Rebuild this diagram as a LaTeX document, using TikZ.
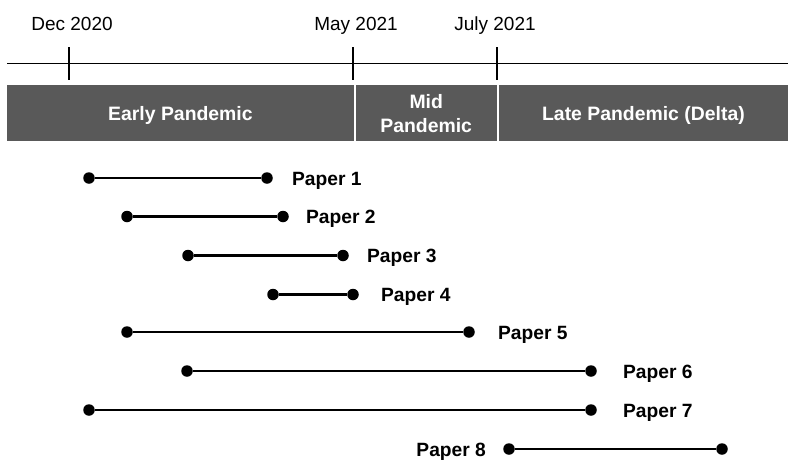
\documentclass[tikz,border=0pt]{standalone}
\usepackage{fontspec}
\setmainfont{Liberation Sans}
\usetikzlibrary{positioning}
\definecolor{bandgray}{HTML}{595959}
\tikzset{period/.style={
            fill=bandgray,
            draw=none,
            inner sep=0pt,
            minimum height=56pt,
            anchor=north west,
            text=white,
            align=center,
            text depth=0pt,
            font=\bfseries\fontsize{19.4}{24}\selectfont
        },
        dot/.style={
            circle,
            fill=black,
            inner sep=0pt,
            minimum size=11.5pt
        },
        span/.style={
            line width=2.6pt
        },
        paper/.style={
            inner sep=0pt,
            yshift=-2.5pt,
            font=\bfseries\fontsize{19.2}{22}\selectfont
        },
        datelabel/.style={
            inner sep=0pt,
            anchor=base,
            font=\fontsize{19}{22}\selectfont
        },
        axis/.style={
            line width=1.4pt
        }
    }
\begin{document}
\begin{tikzpicture}[x=1pt,y=-1pt]
        \useasboundingbox (0,0) rectangle (788,459);

        % time axis
        \coordinate (start) at (7,63.5);
        \coordinate (end) at (788,63.5);
        \draw[axis] (start) -- (end);
        \coordinate (dectop) at (69,47);
        \coordinate (decbot) at (69,80);
        \coordinate (maytop) at (353,47);
        \coordinate (maybot) at (353,80);
        \coordinate (jultop) at (497,47);
        \coordinate (julbot) at (497,80);
        \draw[axis] (dectop) -- (decbot);
        \draw[axis] (maytop) -- (maybot);
        \draw[axis] (jultop) -- (julbot);
        \node[datelabel] (dec) at (72,30) {Dec 2020};
        \node[datelabel] (may) at (356,30) {May 2021};
        \node[datelabel] (jul) at (495,30) {July 2021};

        % periods
        \node[period, minimum width=346.5pt] (early) at (7,85) {Early Pandemic};
        \node[period, minimum width=141pt] (mid) at (355.5,85) {Mid\\Pandemic};
        \node[period, minimum width=289.5pt] (late) at (498.5,85) {Late Pandemic (Delta)};

        % papers
        \node[dot] (p1a) at (89,178) {};
        \node[dot] (p1b) at (267,178) {};
        \draw[span] (p1a) -- (p1b);
        \node[paper, right=19pt of p1b] (p1) {Paper 1};

        \node[dot] (p2a) at (127,216.5) {};
        \node[dot] (p2b) at (283,216.5) {};
        \draw[span] (p2a) -- (p2b);
        \node[paper, right=17pt of p2b] (p2) {Paper 2};

        \node[dot] (p3a) at (188,255.5) {};
        \node[dot] (p3b) at (343,255.5) {};
        \draw[span] (p3a) -- (p3b);
        \node[paper, right=18pt of p3b] (p3) {Paper 3};

        \node[dot] (p4a) at (273,294.5) {};
        \node[dot] (p4b) at (353,294.5) {};
        \draw[span] (p4a) -- (p4b);
        \node[paper, right=22pt of p4b] (p4) {Paper 4};

        \node[dot] (p5a) at (127,332) {};
        \node[dot] (p5b) at (469,332) {};
        \draw[span] (p5a) -- (p5b);
        \node[paper, right=23pt of p5b] (p5) {Paper 5};

        \node[dot] (p6a) at (187,371) {};
        \node[dot] (p6b) at (591,371) {};
        \draw[span] (p6a) -- (p6b);
        \node[paper, right=26pt of p6b] (p6) {Paper 6};

        \node[dot] (p7a) at (89,410) {};
        \node[dot] (p7b) at (591,410) {};
        \draw[span] (p7a) -- (p7b);
        \node[paper, right=26pt of p7b] (p7) {Paper 7};

        \node[dot] (p8a) at (509,449) {};
        \node[dot] (p8b) at (722,449) {};
        \draw[span] (p8a) -- (p8b);
        \node[paper, left=17pt of p8a] (p8) {Paper 8};

    \end{tikzpicture}
\end{document}
